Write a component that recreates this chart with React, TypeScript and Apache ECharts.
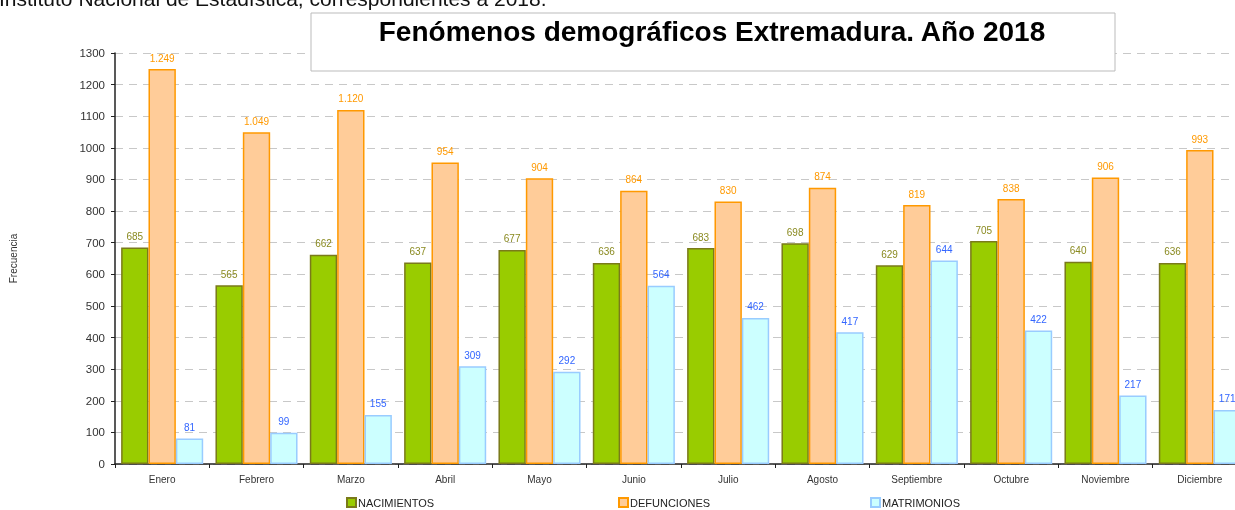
import React, { useEffect, useRef } from "react";
import * as echarts from "echarts";

const months = ["Enero", "Febrero", "Marzo", "Abril", "Mayo", "Junio", "Julio", "Agosto", "Septiembre", "Octubre", "Noviembre", "Diciembre"];
const nacimientos = [685, 565, 662, 637, 677, 636, 683, 698, 629, 705, 640, 636];
const defunciones = [1249, 1049, 1120, 954, 904, 864, 830, 874, 819, 838, 906, 993];
const matrimonios = [81, 99, 155, 309, 292, 564, 462, 417, 644, 422, 217, 171];

const fmt = (v: number) => String(v).replace(/\B(?=(\d{3})+(?!\d))/g, ".");

export default function App() {
  const ref = useRef<HTMLDivElement>(null);
  useEffect(() => {
    const chart = echarts.init(ref.current!, null, { renderer: "svg" });
    const font = "Arial, 'Liberation Sans', sans-serif";
    const mk = (name: string, data: number[], fill: string, border: string, lab: string) => ({
      name,
      type: "bar",
      data,
      barGap: "0%",
      barCategoryGap: "13%",
      itemStyle: { color: fill, borderColor: border, borderWidth: 1.5 },
      label: {
        show: true,
        position: "top",
        distance: 6,
        color: lab,
        fontSize: 10,
        fontFamily: font,
        formatter: (p: any) => fmt(p.value),
      },
    });
    chart.setOption({
      animation: false,
      textStyle: { fontFamily: font },
      grid: { left: 115, top: 53, bottom: 46, width: 1132, outerBoundsMode: "none" },
      legend: [
        { data: ["NACIMIENTOS"], left: 346, top: 497 },
        { data: ["DEFUNCIONES"], left: 618, top: 497 },
        { data: ["MATRIMONIOS"], left: 870, top: 497 },
      ].map((l) => ({
        ...l,
        itemWidth: 9,
        itemHeight: 9,
        itemGap: 2,
        icon: "rect",
        textStyle: { fontSize: 11, color: "#222", fontFamily: font, padding: [0, 0, 0, -3] },
        padding: 0,
      })),
      xAxis: {
        type: "category",
        data: months,
        axisLine: { lineStyle: { color: "#222", width: 1.5 } },
        axisTick: { show: true, length: 4, lineStyle: { color: "#222" } },
        axisLabel: { fontSize: 10, color: "#333", margin: 10, fontFamily: font },
      },
      yAxis: {
        type: "value",
        min: 0,
        max: 1300,
        interval: 100,
        name: "Frecuencia",
        nameLocation: "middle",
        nameGap: 97,
        nameRotate: 90,
        nameTextStyle: { fontSize: 10, color: "#333", fontFamily: font },
        axisLine: { show: true, lineStyle: { color: "#222", width: 1.5 } },
        axisTick: { show: true, length: 4, lineStyle: { color: "#222" } },
        axisLabel: { fontSize: 11.5, color: "#333", margin: 10, fontFamily: font, formatter: (v: number) => String(v) },
        splitLine: { lineStyle: { color: "#c8c8c8", type: [8, 6] } },
      },
      series: [
        mk("NACIMIENTOS", nacimientos, "#99CC00", "#7a7a1a", "#8a8a20"),
        mk("DEFUNCIONES", defunciones, "#FFCC99", "#FF9900", "#FF9900"),
        mk("MATRIMONIOS", matrimonios, "#CCFFFF", "#99CCFF", "#3366FF"),
      ],
      graphic: [
        {
          type: "text",
          x: -1,
          y: -2,
          style: {
            text: "Instituto Nacional de Estadística, correspondientes a 2018.",
            fontSize: 21,
            fill: "#111",
            fontFamily: font,
            verticalAlign: "middle",
          },
        },
        {
          type: "rect",
          shape: { x: 311, y: 13, width: 804, height: 58 },
          style: { fill: "#fff", stroke: "#bbb", lineWidth: 1 },
          z: 100,
        },
        {
          type: "text",
          x: 712,
          y: 31.5,
          z: 101,
          style: {
            text: "Fenómenos demográficos Extremadura. Año 2018",
            fontSize: 28,
            fontWeight: "bold",
            fill: "#000",
            fontFamily: font,
            align: "center",
            verticalAlign: "middle",
          },
        },
      ],
    });
    return () => chart.dispose();
  }, []);
  return (
    <div style={{ position: "fixed", left: 0, top: 0, width: 1235, height: 510, overflow: "hidden" }}>
      <div ref={ref} style={{ width: 1260, height: 510 }} />
    </div>
  );
}
